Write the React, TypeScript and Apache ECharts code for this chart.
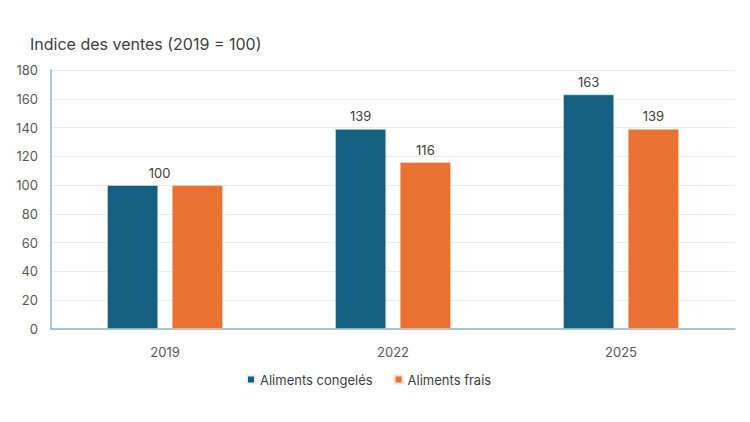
import { useEffect, useRef } from "react";
import * as echarts from "echarts";

const years = ["2019", "2022", "2025"];
const frozen = [100, 139, 163];
const fresh = [100, 116, 139];
const seriesNames = ["Aliments congelés", "Aliments frais"];

const FONT = "Inter, 'Open Sans', sans-serif";

function App() {
  const ref = useRef<HTMLDivElement>(null);

  useEffect(() => {
    if (!ref.current) return;
    document.body.style.margin = "0";
    const chart = echarts.init(ref.current, null, { renderer: "svg" });

    const label = {
      show: true,
      position: "top" as const,
      distance: 6,
      color: "#404040",
      fontSize: 13,
      fontFamily: FONT,
    };

    // 2019: both series equal 100, a single label sits between the two bars
    const frozenData = frozen.map((v, i) =>
      i === 0 ? { value: v, label: { offset: [27, 0] } } : v
    );
    const freshData = fresh.map((v, i) =>
      i === 0 ? { value: v, label: { show: false } } : v
    );

    chart.setOption({
      animation: false,
      backgroundColor: "#ffffff",
      title: {
        text: "Indice des ventes (2019 = 100)",
        left: 25,
        top: 31,
        textStyle: {
          color: "#404040",
          fontSize: 16,
          fontWeight: "normal",
          fontFamily: FONT,
        },
      },
      legend: {
        data: seriesNames,
        top: 368,
        left: 241,
        icon: "rect",
        itemWidth: 8,
        itemHeight: 8,
        itemGap: 21,
        textStyle: { color: "#404040", fontSize: 13, fontFamily: FONT },
      },
      grid: { left: 51, right: 15, top: 70, bottom: 93 },
      xAxis: {
        type: "category",
        data: years,
        axisLine: { lineStyle: { color: "#8fb3cc", width: 1.5 } },
        axisTick: { show: false },
        axisLabel: { color: "#595959", fontSize: 13, fontFamily: FONT, margin: 16 },
      },
      yAxis: {
        type: "value",
        min: 0,
        max: 180,
        interval: 20,
        axisLine: { show: true, lineStyle: { color: "#8fb3cc", width: 1.5 } },
        axisTick: { show: false },
        axisLabel: { color: "#595959", fontSize: 13, fontFamily: FONT, margin: 13 },
        splitLine: { lineStyle: { color: "#ececec" } },
      },
      series: [
        {
          name: seriesNames[0],
          type: "bar",
          data: frozenData,
          barWidth: 51,
          barGap: "27%",
          itemStyle: { color: "#156082", borderColor: "#e8eef2", borderWidth: 0.6 },
          label,
        },
        {
          name: seriesNames[1],
          type: "bar",
          data: freshData,
          barWidth: 51,
          itemStyle: { color: "#E97132", borderColor: "#f6e2d8", borderWidth: 0.6 },
          label,
        },
      ],
    });

    return () => chart.dispose();
  }, []);

  return <div ref={ref} style={{ width: 750, height: 422 }} />;
}

export default App;
